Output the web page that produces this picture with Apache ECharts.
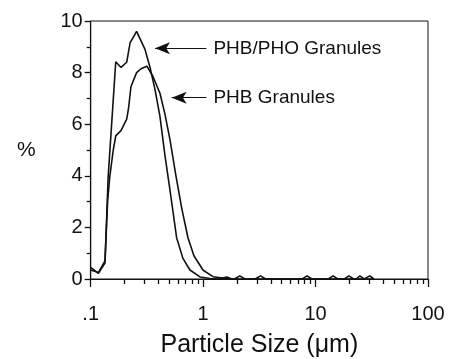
<!DOCTYPE html>
<html>
<head>
<meta charset="utf-8">
<script src="https://cdn.jsdelivr.net/npm/echarts@6/dist/echarts.min.js"></script>
<style>
  html, body { margin: 0; background: #fff; }
  #chart { width: 449px; height: 359px; }
</style>
</head>
<body>
<div id="chart"></div>
<script>
// particle size (um) and % for the PHB/PHO granules
const sizesPhbPho = [0.1, 0.117, 0.134, 0.143, 0.167, 0.186, 0.209, 0.224, 0.256, 0.304, 0.337, 0.373,
  0.413, 0.457, 0.507, 0.581, 0.661, 0.763, 0.937, 1.149, 1.4, 1.62, 1.8, 33];
const percentPhbPho = [0.45, 0.22, 0.62, 3.96, 8.42, 8.2, 8.4, 9.15, 9.6, 8.9, 8.2, 7.35,
  6.3, 4.8, 3.45, 1.6, 0.8, 0.35, 0.08, 0.02, 0, 0.08, 0, 0];

// particle size (um) and % for the PHB granules
const sizesPhb = [0.1, 0.117, 0.134, 0.1416, 0.1484, 0.1588, 0.167, 0.186, 0.209, 0.2168, 0.228, 0.256,
  0.28, 0.316, 0.358, 0.413, 0.457, 0.507, 0.573, 0.648, 0.733, 0.828, 0.996, 1.222, 1.563,
  1.9, 2.12, 2.35, 2.9, 3.24, 3.6, 7.6, 8.4, 9.3, 13, 14.3, 15.8, 18, 19.8, 21.8, 23, 24.8, 27,
  28, 30.4, 33];
const percentPhb = [0.35, 0.25, 0.7, 3.06, 4.03, 5.0, 5.55, 5.75, 6.2, 6.6, 7.45, 8.0,
  8.15, 8.25, 7.85, 7.2, 6.4, 5.4, 4.0, 2.7, 1.6, 0.9, 0.35, 0.09, 0.03,
  0, 0.12, 0, 0, 0.12, 0, 0, 0.12, 0, 0, 0.12, 0, 0, 0.12, 0, 0, 0.12, 0,
  0, 0.12, 0];

const xMajorTicks = [0.1, 1, 10, 100];
const xTickLabels = { 0.1: '.1', 1: '1', 10: '10', 100: '100' };
const xMinorTicks = [0.2, 0.3, 0.4, 0.5, 0.6, 0.7, 0.8, 0.9, 2, 3, 4, 5, 6, 7, 8, 9,
  20, 30, 40, 50, 60, 70, 80, 90];

const FONT = 'Liberation Sans';
const INK = '#111';

const toPairs = (xs, ys) => xs.map((x, i) => [x, ys[i]]);

const arrowLabel = {
  show: true,
  position: 'start',
  distance: 7,
  formatter: '{b}',
  color: INK,
  fontFamily: FONT,
  fontSize: 19,
};

const chart = echarts.init(document.getElementById('chart'), null, { renderer: 'canvas' });

chart.setOption({
  animation: false,
  grid: {
    left: 90.7, right: 21, top: 21, bottom: 80,
    outerBoundsMode: 'none',
    containLabel: false,
    show: true, borderColor: INK, borderWidth: 1,
  },
  xAxis: [
    {
      type: 'log', min: 0.1, max: 100, logBase: 10,
      axisLine: { onZero: false, lineStyle: { color: INK, width: 1.2 } },
      axisTick: { show: true, inside: false, length: 8, customValues: xMajorTicks, lineStyle: { color: INK, width: 1.3 } },
      axisLabel: {
        customValues: xMajorTicks,
        formatter: (v) => xTickLabels[v] ?? String(v),
        margin: 25, color: INK, fontFamily: FONT, fontSize: 20,
      },
      splitLine: { show: false },
      name: 'Particle Size (μm)',
      nameLocation: 'middle',
      nameGap: 54,
      nameTextStyle: { color: INK, fontFamily: FONT, fontSize: 25 },
    },
    {
      type: 'log', min: 0.1, max: 100, logBase: 10, position: 'bottom',
      axisLine: { show: false, onZero: false },
      axisTick: { show: true, inside: false, length: 5, customValues: xMinorTicks, lineStyle: { color: INK, width: 1.3 } },
      axisLabel: { show: false },
      splitLine: { show: false },
    },
  ],
  yAxis: {
    type: 'value', min: 0, max: 10, interval: 2,
    axisLine: { show: true, lineStyle: { color: INK, width: 1.2 } },
    axisTick: { show: true, inside: false, length: 6, lineStyle: { color: INK, width: 1.3 } },
    minorTick: { show: true, splitNumber: 2, length: 4, lineStyle: { color: INK, width: 1.3 } },
    axisLabel: { margin: 8, color: INK, fontFamily: FONT, fontSize: 20 },
    splitLine: { show: false },
    name: '%',
    nameLocation: 'middle',
    nameRotate: 0,
    nameGap: 55,
    nameTextStyle: { color: INK, fontFamily: FONT, fontSize: 21 },
  },
  series: [
    {
      name: 'PHB/PHO Granules',
      type: 'line',
      data: toPairs(sizesPhbPho, percentPhbPho),
      showSymbol: false,
      lineStyle: { color: INK, width: 1.6 },
      silent: true,
      markLine: {
        silent: true,
        symbol: ['none', 'arrow'],
        symbolSize: [9, 15],
        lineStyle: { color: INK, width: 1, type: 'solid' },
        label: arrowLabel,
        data: [[
          { name: 'PHB/PHO Granules', coord: [1.07, 8.94] },
          { coord: [0.373, 8.94] },
        ]],
      },
    },
    {
      name: 'PHB Granules',
      type: 'line',
      data: toPairs(sizesPhb, percentPhb),
      showSymbol: false,
      lineStyle: { color: INK, width: 1.6 },
      silent: true,
      markLine: {
        silent: true,
        symbol: ['none', 'arrow'],
        symbolSize: [9, 15],
        lineStyle: { color: INK, width: 1, type: 'solid' },
        label: arrowLabel,
        data: [[
          { name: 'PHB Granules', coord: [1.07, 7.03] },
          { coord: [0.525, 7.03] },
        ]],
      },
    },
  ],
});
</script>
</body>
</html>
